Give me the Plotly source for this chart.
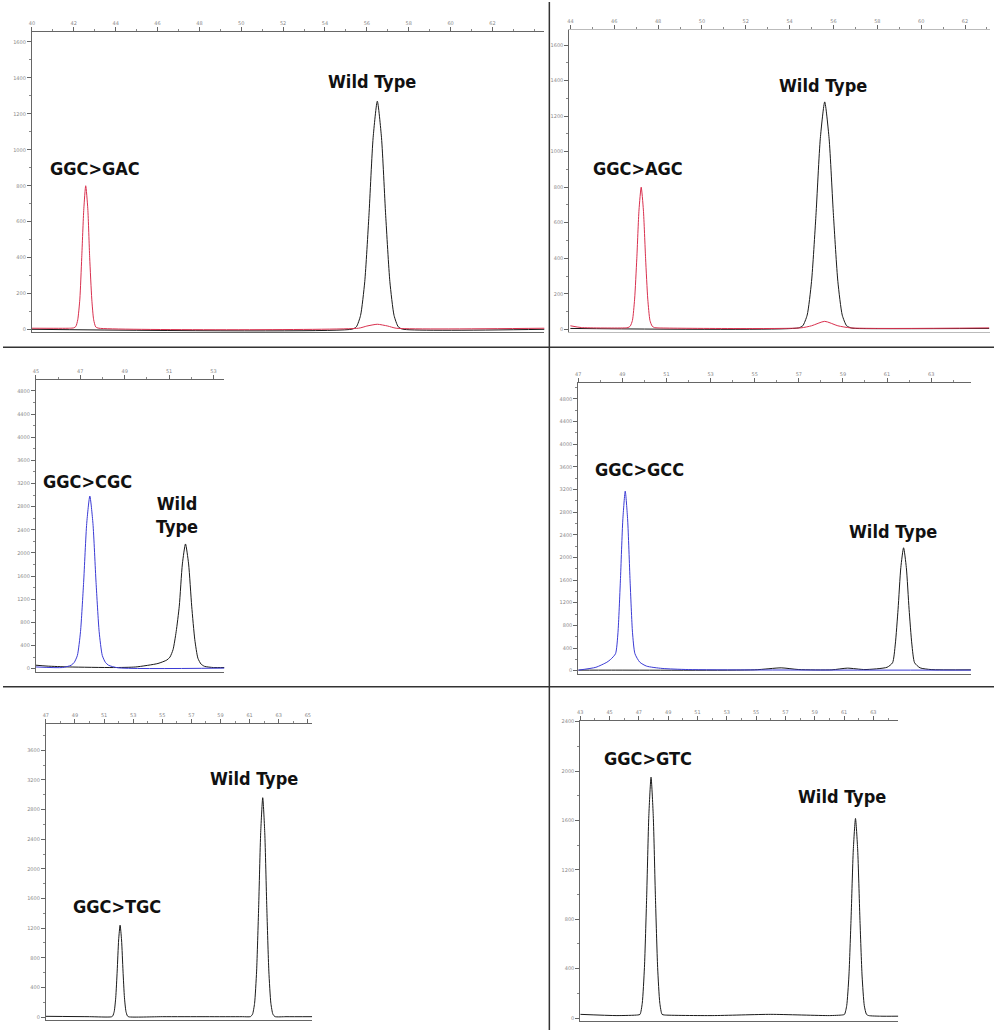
import plotly.graph_objects as go

W, H = 994, 1030

# ---------------- data ----------------
# Panel 1: GGC>GAC (red) vs Wild Type (black)
p1_red_x = [40.0, 41.8, 42.0, 42.1, 42.19, 42.29, 42.38, 42.48, 42.57, 42.67, 42.76, 42.86, 42.95, 43.05, 43.2, 55.6, 56.0, 56.5, 57.0, 57.4, 64.5]
p1_red_y = [8, 8, 10, 18, 55, 170, 400, 672, 800, 672, 400, 170, 55, 15, 8, 8, 20, 30, 20, 8, 8]
p1_blk_x = [40.0, 55.3, 55.5, 55.7, 55.9, 56.1, 56.3, 56.5, 56.7, 56.9, 57.1, 57.3, 57.5, 57.7, 64.5]
p1_blk_y = [2, 3, 16, 79, 267, 635, 1067, 1270, 1067, 635, 267, 79, 16, 3, 2]

# Panel 2: GGC>AGC (red) vs Wild Type (black)
p2_red_x = [44.0, 44.5, 46.5, 46.63, 46.73, 46.83, 46.93, 47.03, 47.13, 47.23, 47.33, 47.43, 47.53, 47.63, 47.73, 47.83, 48.0, 54.5, 55.0, 55.6, 56.2, 56.8, 63.1]
p2_red_y = [20, 10, 8, 10, 18, 50, 170, 400, 672, 800, 672, 400, 170, 50, 18, 10, 8, 8, 20, 45, 20, 8, 8]
p2_blk_x = [44.0, 54.4, 54.6, 54.8, 55.0, 55.2, 55.4, 55.6, 55.8, 56.0, 56.2, 56.4, 56.6, 56.8, 57.0, 63.1]
p2_blk_y = [5, 8, 20, 80, 270, 640, 1075, 1280, 1075, 640, 270, 80, 20, 8, 5, 5]

# Panel 3: GGC>CGC (blue) vs Wild Type (black)
p3_blu_x = [45.0, 46.2, 46.59, 46.73, 46.87, 47.01, 47.15, 47.29, 47.43, 47.57, 47.71, 47.85, 47.99, 48.13, 48.27, 48.7, 53.5]
p3_blu_y = [30, 20, 60, 110, 230, 640, 1490, 2510, 2983, 2510, 1490, 640, 230, 110, 60, 15, 10]
p3_blk_x = [45.0, 45.5, 46.5, 48.5, 49.5, 50.5, 50.9, 51.04, 51.18, 51.32, 51.46, 51.6, 51.74, 51.88, 52.02, 52.16, 52.3, 52.44, 52.6, 53.0, 53.5]
p3_blk_y = [60, 45, 30, 20, 30, 90, 150, 200, 330, 640, 1080, 1810, 2155, 1810, 1080, 500, 180, 80, 40, 20, 20]

# Panel 4: GGC>GCC (blue) vs Wild Type (black)
p4_blu_x = [47.0, 47.8, 48.3, 48.47, 48.69, 48.8, 48.91, 49.02, 49.13, 49.24, 49.35, 49.46, 49.57, 49.79, 50.1, 50.8, 52.0, 64.8]
p4_blu_y = [10, 60, 150, 200, 300, 670, 1585, 2660, 3170, 2660, 1585, 670, 300, 150, 80, 40, 20, 10]
p4_blk_x = [47.0, 48.5, 55.0, 56.2, 57.0, 58.5, 59.2, 60.0, 61.0, 61.25, 61.375, 61.5, 61.625, 61.75, 61.875, 62.0, 62.125, 62.25, 62.5, 63.0, 64.8]
p4_blk_y = [10, 10, 15, 50, 20, 15, 45, 20, 60, 140, 470, 1085, 1820, 2170, 1820, 1085, 470, 140, 50, 20, 15]

# Panel 5: GGC>TGC and Wild Type (one black trace)
p5_x = [47.0, 50.0, 51.5, 51.6, 51.7, 51.8, 51.9, 52.0, 52.1, 52.2, 52.3, 52.4, 52.5, 52.6, 52.7,
        55.0, 58.0, 60.5, 61.06, 61.2, 61.34, 61.48, 61.62, 61.76, 61.9, 62.04, 62.18, 62.32, 62.46, 62.6, 62.74, 63.5, 65.3]
p5_y = [10, 5, 3, 16, 78, 260, 620, 1040, 1240, 1040, 620, 260, 78, 16, 3,
        5, 5, 5, 6, 38, 185, 620, 1480, 2490, 2960, 2490, 1480, 620, 185, 38, 6, 5, 5]

# Panel 6: GGC>GTC and Wild Type (one black trace)
p6_x = [43.0, 45.5, 46.93, 47.08, 47.23, 47.38, 47.53, 47.68, 47.83, 47.98, 48.13, 48.28, 48.43, 48.58, 48.73,
        52.0, 56.0, 60.0, 60.88, 61.03, 61.18, 61.33, 61.48, 61.63, 61.78, 61.93, 62.08, 62.23, 62.38, 62.53, 62.68, 63.5, 64.7]
p6_y = [30, 20, 25, 30, 120, 410, 975, 1640, 1950, 1640, 975, 410, 120, 30, 25,
        20, 30, 20, 25, 30, 100, 340, 810, 1360, 1616, 1360, 810, 340, 100, 30, 20, 15, 15]

# tick values per panel
p1_xticks = list(range(40, 63, 2)); p1_yticks = list(range(0, 1601, 200))
p2_xticks = list(range(44, 63, 2)); p2_yticks = list(range(0, 1601, 200))
p3_xticks = list(range(45, 54, 2)); p3_yticks = list(range(0, 4801, 400))
p4_xticks = list(range(47, 64, 2)); p4_yticks = list(range(0, 4801, 400))
p5_xticks = list(range(47, 66, 2)); p5_yticks = list(range(0, 3601, 400))
p6_xticks = list(range(43, 64, 2)); p6_yticks = list(range(0, 2401, 400))

# annotation texts
p1_labels = ["GGC>GAC", "Wild Type"]
p2_labels = ["GGC>AGC", "Wild Type"]
p3_labels = ["GGC>CGC", "Wild<br>Type"]
p4_labels = ["GGC>GCC", "Wild Type"]
p5_labels = ["GGC>TGC", "Wild Type"]
p6_labels = ["GGC>GTC", "Wild Type"]

RED = "#d8304e"
BLUE = "#3b3bd4"
BLACK = "#1a1a1a"

# ---------------- layout: pixel boxes (left, right, top, bottom) & ranges ----------------
panels = [
    dict(box=(29, 543, 30, 331), xr=[40, 64.48], yr=[-15, 1655], xt=p1_xticks, yt=p1_yticks, ymin=100, axline="#666",
         traces=[(p1_blk_x, p1_blk_y, BLACK), (p1_red_x, p1_red_y, RED)],
         labels=p1_labels, lpos=[(92, 167), (370, 80)]),
    dict(box=(568, 990, 28, 331), xr=[43.95, 63.14], yr=[-17, 1685], xt=p2_xticks, yt=p2_yticks, ymin=100, axline="#bbb",
         traces=[(p2_blk_x, p2_blk_y, BLACK), (p2_red_x, p2_red_y, RED)],
         labels=p2_labels, lpos=[(637, 167), (822, 84)]),
    dict(box=(33, 222, 379, 671), xr=[45, 53.49], yr=[-52, 4983], xt=p3_xticks, yt=p3_yticks, ymin=200, axline="#666",
         traces=[(p3_blk_x, p3_blk_y, BLACK), (p3_blu_x, p3_blu_y, BLUE)],
         labels=p3_labels, lpos=[(85, 480), (175, 514)]),
    dict(box=(577, 971, 382, 673), xr=[47, 64.81], yr=[-53, 5075], xt=p4_xticks, yt=p4_yticks, ymin=200, axline="#666",
         traces=[(p4_blk_x, p4_blk_y, BLACK), (p4_blu_x, p4_blu_y, BLUE)],
         labels=p4_labels, lpos=[(638, 468), (893, 531)]),
    dict(box=(43, 310, 723, 1020), xr=[47, 65.29], yr=[-40, 3960], xt=p5_xticks, yt=p5_yticks, ymin=200, axline="#666",
         traces=[(p5_x, p5_y, BLACK)],
         labels=p5_labels, lpos=[(114, 906), (252, 778)]),
    dict(box=(579, 898, 720, 1021), xr=[43, 64.7], yr=[-24, 2408], xt=p6_xticks, yt=p6_yticks, ymin=200, axline="#666",
         traces=[(p6_x, p6_y, BLACK)],
         labels=p6_labels, lpos=[(647, 758), (842, 796)]),
]

fig = go.Figure()
layout = {}
annotations = []
tickfont = dict(size=5, color="#8a8a8a", family="DejaVu Sans")

for i, p in enumerate(panels, start=1):
    sx = "" if i == 1 else str(i)
    L, R, T, B = p["box"]
    xa = dict(domain=[L / W, R / W], range=p["xr"], side="top", anchor="y" + sx,
              showline=True, linecolor=p["axline"], linewidth=1, mirror=True,
              ticks="outside", ticklen=4, tickcolor="#666", tickvals=p["xt"],
              tickfont=tickfont, showgrid=False, zeroline=False, fixedrange=True,
              minor=dict(ticks="outside", ticklen=2, tickcolor="#888", dtick=1, tick0=p["xt"][0]))
    ya = dict(domain=[1 - B / H, 1 - T / H], range=p["yr"], anchor="x" + sx,
              showline=True, linecolor="#666", linewidth=1,
              ticks="outside", ticklen=4, tickcolor="#666", tickvals=p["yt"],
              tickfont=tickfont, showgrid=False, zeroline=False, fixedrange=True,
              minor=dict(ticks="outside", ticklen=2, tickcolor="#888", dtick=p["ymin"], tick0=0))
    layout["xaxis" + sx] = xa
    layout["yaxis" + sx] = ya
    for xs, ys, col in p["traces"]:
        fig.add_trace(go.Scatter(x=xs, y=ys, mode="lines", line=dict(color=col, width=1, shape="spline", smoothing=0.6),
                                 xaxis="x" + sx, yaxis="y" + sx, showlegend=False, hoverinfo="skip"))
    for txt, (px, py) in zip(p["labels"], p["lpos"]):
        annotations.append(dict(text="<b>" + txt + "</b>", x=px / W, y=1 - py / H, xref="paper", yref="paper",
                                showarrow=False, xanchor="center", yanchor="middle",
                                font=dict(size=18, color="#111", family="DejaVu Sans Condensed, DejaVu Sans"),
                                align="center"))

shapes = [
    dict(type="line", xref="paper", yref="paper", x0=548 / W, x1=548 / W, y0=0, y1=1,
         line=dict(color="#333", width=1.5)),
    dict(type="line", xref="paper", yref="paper", x0=0, x1=1, y0=1 - 346 / H, y1=1 - 346 / H,
         line=dict(color="#333", width=1.5)),
    dict(type="line", xref="paper", yref="paper", x0=0, x1=1, y0=1 - 686 / H, y1=1 - 686 / H,
         line=dict(color="#333", width=1.5)),
]

fig.update_layout(width=W, height=H, margin=dict(l=0, r=0, t=0, b=0),
                  paper_bgcolor="white", plot_bgcolor="white",
                  annotations=annotations, shapes=shapes, **layout)

fig.write_html("out.html")
